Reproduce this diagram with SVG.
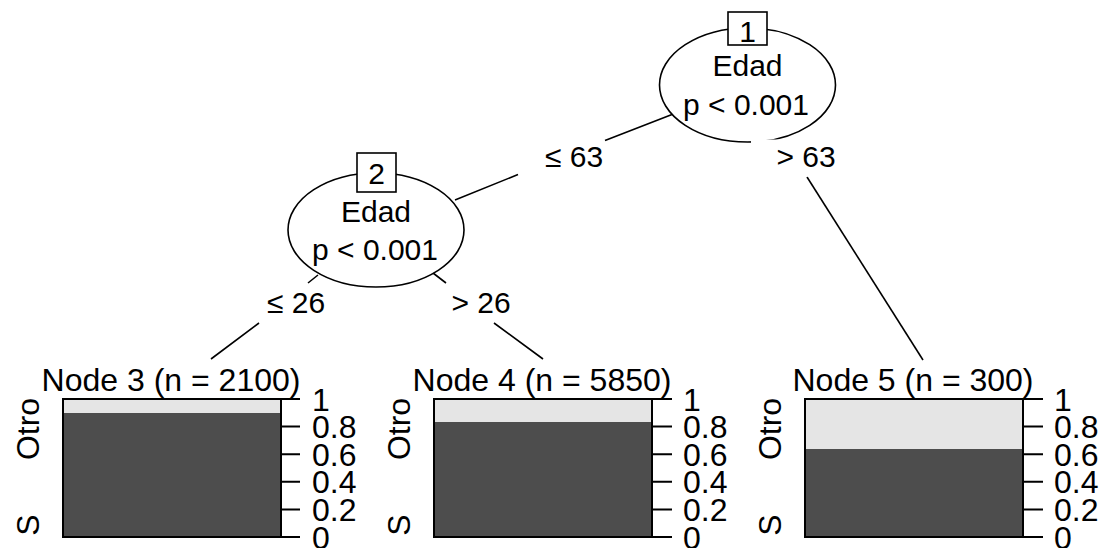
<svg xmlns="http://www.w3.org/2000/svg" width="1107" height="548" viewBox="0 0 1107 548">
<style>
text{font-family:"Liberation Sans",Arial,sans-serif;font-size:30px;fill:#000}
.leaf text{font-size:32px}
.mid{text-anchor:middle}
.edge{stroke:#000;stroke-width:1.6;fill:none}
.ell{fill:#fff;stroke:#000;stroke-width:1.6}
.idbox{fill:#fff;stroke:#000;stroke-width:1.6}
.lbg{fill:#fff;stroke:none}
.light{fill:#e5e5e5}
.dark{fill:#4d4d4d}
.frame{fill:none;stroke:#000;stroke-width:2}
.tick{stroke:#000;stroke-width:2}
</style>
<g id="connectors">
<path class="edge" d="M672,114.5 L605,140.5 M518,174.5 L455,200"/>
<path class="edge" d="M807,177 L923,360"/>
<path class="edge" d="M318,275 L308,283 M259,323 L211,359"/>
<path class="edge" d="M433,273 L446,283 M494,323 L543,359"/>
</g>
<g id="node1">
<ellipse class="ell" cx="747.5" cy="85" rx="88" ry="57"/>
<rect class="idbox" x="728" y="12" width="39" height="33"/>
<text class="mid" x="747.5" y="42">1</text>
<text class="mid" x="747.5" y="76">Edad</text>
<text class="mid" x="746" y="115">p &lt; 0.001</text>
</g>
<g id="label-le63">
<text class="mid" x="574" y="167">≤ 63</text>
</g>
<g id="label-gt63">
<rect class="lbg" x="751" y="139.5" width="110" height="37"/>
<text class="mid" x="806" y="167">&gt; 63</text>
</g>
<g id="node2">
<ellipse class="ell" cx="376" cy="230" rx="88" ry="57"/>
<rect class="idbox" x="357" y="153" width="39" height="39"/>
<text class="mid" x="376.5" y="184">2</text>
<text class="mid" x="376" y="222">Edad</text>
<text class="mid" x="375" y="260">p &lt; 0.001</text>
</g>
<g id="label-le26">
<text class="mid" x="296" y="313">≤ 26</text>
</g>
<g id="label-gt26">
<text class="mid" x="481" y="313">&gt; 26</text>
</g>
<g id="node3" class="leaf">
<text class="mid" x="171" y="391">Node 3 (n = 2100)</text>
<rect class="light" x="63" y="399" width="218" height="14"/>
<rect class="dark" x="63" y="413" width="218" height="124"/>
<rect class="frame" x="63" y="399" width="218" height="138"/>
<path class="tick" d="M281,399H300M281,426.6H300M281,454.2H300M281,481.8H300M281,509.4H300M281,537H300"/>
<text x="312" y="410.5">1</text>
<text x="312" y="438">0.8</text>
<text x="312" y="465.5">0.6</text>
<text x="312" y="493">0.4</text>
<text x="312" y="520.5">0.2</text>
<text x="312" y="548.5">0</text>
<text class="mid" transform="translate(39,429) rotate(-90)">Otro</text>
<text class="mid" transform="translate(39,525) rotate(-90)">S</text>
</g>
<g id="node4" class="leaf">
<text class="mid" x="542" y="391">Node 4 (n = 5850)</text>
<rect class="light" x="434" y="399" width="218" height="23"/>
<rect class="dark" x="434" y="422" width="218" height="115"/>
<rect class="frame" x="434" y="399" width="218" height="138"/>
<path class="tick" d="M652,399H672M652,426.6H672M652,454.2H672M652,481.8H672M652,509.4H672M652,537H672"/>
<text x="683" y="410.5">1</text>
<text x="683" y="438">0.8</text>
<text x="683" y="465.5">0.6</text>
<text x="683" y="493">0.4</text>
<text x="683" y="520.5">0.2</text>
<text x="683" y="548.5">0</text>
<text class="mid" transform="translate(410,429) rotate(-90)">Otro</text>
<text class="mid" transform="translate(410,525) rotate(-90)">S</text>
</g>
<g id="node5" class="leaf">
<text class="mid" x="913" y="391">Node 5 (n = 300)</text>
<rect class="light" x="805" y="399" width="218" height="50"/>
<rect class="dark" x="805" y="449" width="218" height="88"/>
<rect class="frame" x="805" y="399" width="218" height="138"/>
<path class="tick" d="M1023,399H1043M1023,426.6H1043M1023,454.2H1043M1023,481.8H1043M1023,509.4H1043M1023,537H1043"/>
<text x="1054" y="410.5">1</text>
<text x="1054" y="438">0.8</text>
<text x="1054" y="465.5">0.6</text>
<text x="1054" y="493">0.4</text>
<text x="1054" y="520.5">0.2</text>
<text x="1054" y="548.5">0</text>
<text class="mid" transform="translate(781,429) rotate(-90)">Otro</text>
<text class="mid" transform="translate(781,525) rotate(-90)">S</text>
</g>
</svg>
